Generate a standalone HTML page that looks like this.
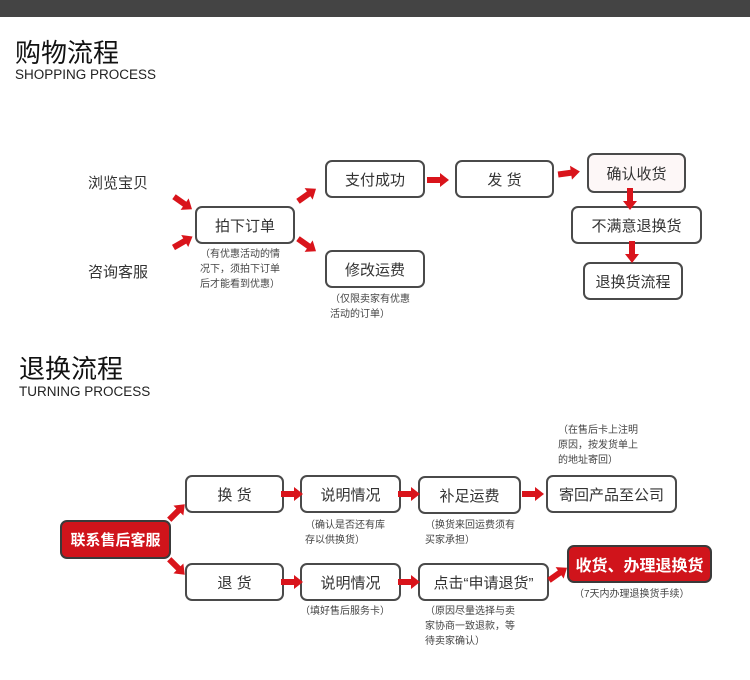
<!DOCTYPE html>
<html><head><meta charset="utf-8"><style>
body{margin:0;width:750px;height:680px;background:#fff;position:relative;overflow:hidden;font-family:"Liberation Sans","Noto Sans CJK SC",sans-serif;color:#333}
.a{position:absolute}
.b{position:absolute;border:2px solid #4a4a4a;border-radius:7px;box-sizing:border-box;display:flex;align-items:center;justify-content:center;font-size:15px;color:#333;background:#fff}
.r{background:#d0141b;color:#fff;font-weight:bold;border-color:#3a3a3a}
.n{position:absolute;font-size:10px;line-height:15px;color:#444}
.t{position:absolute;font-size:15px;color:#333}
</style></head><body>
<div class="a" style="left:0;top:0;width:750px;height:17px;background:#444"></div>
<div class="a" style="left:15px;top:33px;font-size:26px;color:#111">购物流程</div>
<div class="a" style="left:15px;top:67px;font-size:13.5px;color:#222">SHOPPING PROCESS</div>

<div class="t" style="left:88px;top:172px">浏览宝贝</div>
<div class="t" style="left:88px;top:261px">咨询客服</div>
<div class="b" style="left:195px;top:206px;width:100px;height:38px">拍下订单</div>
<div class="n" style="left:200px;top:247px">（有优惠活动的情<br>况下，须拍下订单<br>后才能看到优惠）</div>
<div class="b" style="left:325px;top:160px;width:100px;height:38px">支付成功</div>
<div class="b" style="left:325px;top:250px;width:100px;height:38px">修改运费</div>
<div class="n" style="left:330px;top:292px">（仅限卖家有优惠<br>活动的订单）</div>
<div class="b" style="left:455px;top:160px;width:99px;height:38px">发 货</div>
<div class="b" style="left:587px;top:153px;width:99px;height:40px;background:#fdf7f7">确认收货</div>
<div class="b" style="left:571px;top:206px;width:131px;height:38px">不满意退换货</div>
<div class="b" style="left:583px;top:262px;width:100px;height:38px">退换货流程</div>

<div class="a" style="left:19px;top:349px;font-size:26px;color:#111">退换流程</div>
<div class="a" style="left:19px;top:384px;font-size:13.5px;color:#222">TURNING PROCESS</div>

<div class="b r" style="left:60px;top:520px;width:111px;height:39px">联系售后客服</div>
<div class="b" style="left:185px;top:475px;width:99px;height:38px">换 货</div>
<div class="b" style="left:300px;top:475px;width:101px;height:38px">说明情况</div>
<div class="n" style="left:305px;top:518px">（确认是否还有库<br>存以供换货）</div>
<div class="b" style="left:418px;top:476px;width:103px;height:38px">补足运费</div>
<div class="n" style="left:425px;top:518px">（换货来回运费须有<br>买家承担）</div>
<div class="b" style="left:546px;top:475px;width:131px;height:38px">寄回产品至公司</div>
<div class="n" style="left:558px;top:423px">（在售后卡上注明<br>原因，按发货单上<br>的地址寄回）</div>
<div class="b" style="left:185px;top:563px;width:99px;height:38px">退 货</div>
<div class="b" style="left:300px;top:563px;width:101px;height:38px">说明情况</div>
<div class="n" style="left:300px;top:604px">（填好售后服务卡）</div>
<div class="b" style="left:418px;top:563px;width:131px;height:38px">点击“申请退货”</div>
<div class="n" style="left:425px;top:604px">（原因尽量选择与卖<br>家协商一致退款，等<br>待卖家确认）</div>
<div class="b r" style="left:567px;top:545px;width:145px;height:38px;font-size:16px">收货、办理退换货</div>
<div class="n" style="left:574px;top:587px">（7天内办理退换货手续）</div>

<svg class="a" style="left:0;top:0" width="750" height="680">
<defs><path id="ar" d="M-11,-3 L2,-3 L2,-7 L11,0 L2,7 L2,3 L-11,3 Z" fill="#d9141b"/></defs>
<use href="#ar" transform="translate(183,203) rotate(35)"/>
<use href="#ar" transform="translate(183,242) rotate(-30)"/>
<use href="#ar" transform="translate(307,195) rotate(-35)"/>
<use href="#ar" transform="translate(307,245) rotate(35)"/>
<use href="#ar" transform="translate(438,180)"/>
<use href="#ar" transform="translate(569,173) rotate(-8)"/>
<use href="#ar" transform="translate(630,199) rotate(90)"/>
<use href="#ar" transform="translate(632,252) rotate(90)"/>
<use href="#ar" transform="translate(177,512) rotate(-45)"/>
<use href="#ar" transform="translate(177,567) rotate(45)"/>
<use href="#ar" transform="translate(292,494)"/>
<use href="#ar" transform="translate(409,494)"/>
<use href="#ar" transform="translate(533,494)"/>
<use href="#ar" transform="translate(292,582)"/>
<use href="#ar" transform="translate(409,582)"/>
<use href="#ar" transform="translate(558,574) rotate(-35)"/>
</svg>
</body></html>
